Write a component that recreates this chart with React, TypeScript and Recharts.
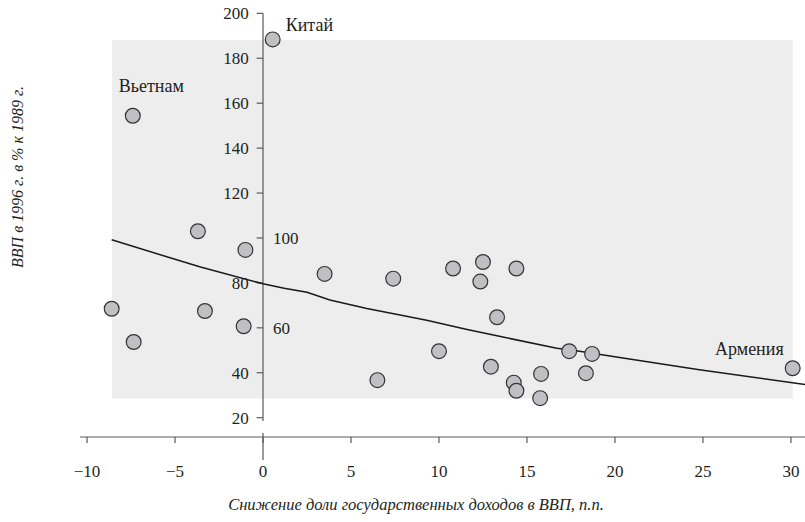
import React from 'react';
import {
  ComposedChart,
  Scatter,
  Line,
  XAxis,
  YAxis,
  ReferenceArea,
  ReferenceLine,
} from 'recharts';

// Scatter data: fall in government revenue share (p.p.) vs GDP 1996 (% of 1989)
const revenueDrop = [
  0.55, -7.4, -3.7, -1.0, -8.6, -7.35, -3.3, -1.1, 3.5, 7.4, 6.5, 10.8, 12.5,
  14.4, 12.35, 13.3, 10.0, 12.95, 14.25, 14.4, 15.8, 15.75, 17.4, 18.7, 18.35,
  30.1,
];
const gdpIndex = [
  188.4, 154.4, 103.0, 94.7, 68.5, 53.7, 67.5, 60.7, 84.0, 81.9, 36.7, 86.4,
  89.3, 86.4, 80.6, 64.7, 49.6, 42.7, 35.6, 32.0, 39.5, 28.7, 49.6, 48.4, 39.8,
  42.0,
];
const countryNames = [
  'Китай', 'Вьетнам', '', '', '', '', '', '', '', '', '', '', '', '', '', '',
  '', '', '', '', '', '', '', '', '', 'Армения',
];

// Smoothed trend line
const trendX = [-8.6, -5, -3.6, 0, 1.2, 2.5, 3.8, 5.9, 7.5, 9.3, 11.6, 13.5, 16.7, 17.8, 19.9, 24.8, 30.8];
const trendY = [99.2, 90.5, 87.2, 79.6, 77.6, 75.8, 72.4, 68.6, 66.2, 63.4, 59.3, 56.1, 50.9, 49.8, 47.2, 41.3, 34.8];

// Axes
const xTicks = [-10, -5, 0, 5, 10, 15, 20, 25, 30];
const yTicks = [20, 40, 60, 80, 100, 120, 140, 160, 180, 200];
const yTicksRightSide = [60, 100];
const xDomain = [-10.4, 30.8];
const yDomain = [11.4, 204.6];

// Shaded data range
const shadeX = [-8.58, 30.1];
const shadeY = [28.5, 188.1];

const xTitle = 'Снижение доли государственных доходов в ВВП, п.п.';
const yTitle = 'ВВП в 1996 г. в % к 1989 г.';

const scatterData = revenueDrop.map((x, i) => ({ x, y: gdpIndex[i], name: countryNames[i] }));
const trendData = trendX.map((x, i) => ({ x, y: trendY[i] }));

const FONT = "'Liberation Serif', 'Times New Roman', serif";
const TEXT = '#231f20';
const AXIS = '#5a5a5a';

const labelPlacement: Record<string, { dx: number; dy: number; anchor: 'start' | 'middle' | 'end' }> = {
  'Китай': { dx: 13, dy: -8, anchor: 'start' },
  'Вьетнам': { dx: -14, dy: -24, anchor: 'start' },
  'Армения': { dx: -9, dy: -13, anchor: 'end' },
};

const Dot = (props: any) => {
  const { cx, cy, payload } = props;
  const name: string = payload?.name || '';
  const lp = labelPlacement[name];
  return (
    <g>
      <circle cx={cx} cy={cy} r={7.4} fill="#c0c0c4" stroke="#333" strokeWidth={1.2} />
      {lp ? (
        <text
          x={cx + lp.dx}
          y={cy + lp.dy}
          textAnchor={lp.anchor}
          fontFamily={FONT}
          fontSize={18}
          fill={TEXT}
        >
          {name}
        </text>
      ) : null}
    </g>
  );
};

const fmtX = (v: number) => String(v).replace('-', '\u2212');

export default function App() {
  return (
    <div style={{ position: 'absolute', left: 0, top: 0, width: 805, height: 522, background: '#fff' }}>
      <ComposedChart
        width={805}
        height={522}
        margin={{ top: 3, right: 0, bottom: 0, left: 80 }}
      >
        <XAxis
          dataKey="x"
          type="number"
          domain={xDomain}
          ticks={xTicks}
          allowDataOverflow
          height={85}
          tickSize={6}
          tickMargin={22}
          tickFormatter={fmtX}
          stroke={AXIS}
          tick={{ fill: TEXT, fontFamily: FONT, fontSize: 17 }}
          axisLine={{ stroke: AXIS, strokeWidth: 1.2 }}
          tickLine={{ stroke: AXIS, strokeWidth: 1.2 }}
        />
        <YAxis dataKey="y" type="number" domain={yDomain} allowDataOverflow hide />
        <ReferenceArea
          x1={shadeX[0]}
          x2={shadeX[1]}
          y1={shadeY[0]}
          y2={shadeY[1]}
          fill="#ededed"
          fillOpacity={1}
          stroke="none"
          ifOverflow="visible"
        />
        {/* vertical axis at x = 0 */}
        <ReferenceLine
          segment={[{ x: 0, y: 200 }, { x: 0, y: 18.5 }]}
          stroke={AXIS}
          strokeWidth={1.2}
          ifOverflow="visible"
        />
        <ReferenceLine
          segment={[{ x: 0, y: 13.2 }, { x: 0, y: 1.2 }]}
          stroke={AXIS}
          strokeWidth={1.2}
          ifOverflow="visible"
        />
        {yTicks.map((t) => (
          <ReferenceLine
            key={t}
            segment={[{ x: -0.36, y: t }, { x: 0, y: t }]}
            stroke={AXIS}
            strokeWidth={1.2}
            ifOverflow="visible"
            label={{
              value: String(t),
              position: yTicksRightSide.includes(t) ? 'right' : 'left',
              offset: yTicksRightSide.includes(t) ? 10 : 8,
              fill: TEXT,
              fontFamily: FONT,
              fontSize: 17,
            }}
          />
        ))}
        <Line
          data={trendData}
          dataKey="y"
          type="linear"
          stroke="#1a1a1a"
          strokeWidth={1.5}
          dot={false}
          activeDot={false}
          isAnimationActive={false}
        />
        <Scatter
          data={scatterData}
          dataKey="y"
          shape={<Dot />}
          isAnimationActive={false}
        />
        <text
          x={416}
          y={510}
          textAnchor="middle"
          fontFamily={FONT}
          fontStyle="italic"
          fontSize={16.5}
          fill={TEXT}
        >
          {xTitle}
        </text>
        <text
          x={23}
          y={177}
          transform="rotate(-90, 23, 177)"
          textAnchor="middle"
          fontFamily={FONT}
          fontStyle="italic"
          fontSize={16}
          fill={TEXT}
        >
          {yTitle}
        </text>
      </ComposedChart>
    </div>
  );
}
